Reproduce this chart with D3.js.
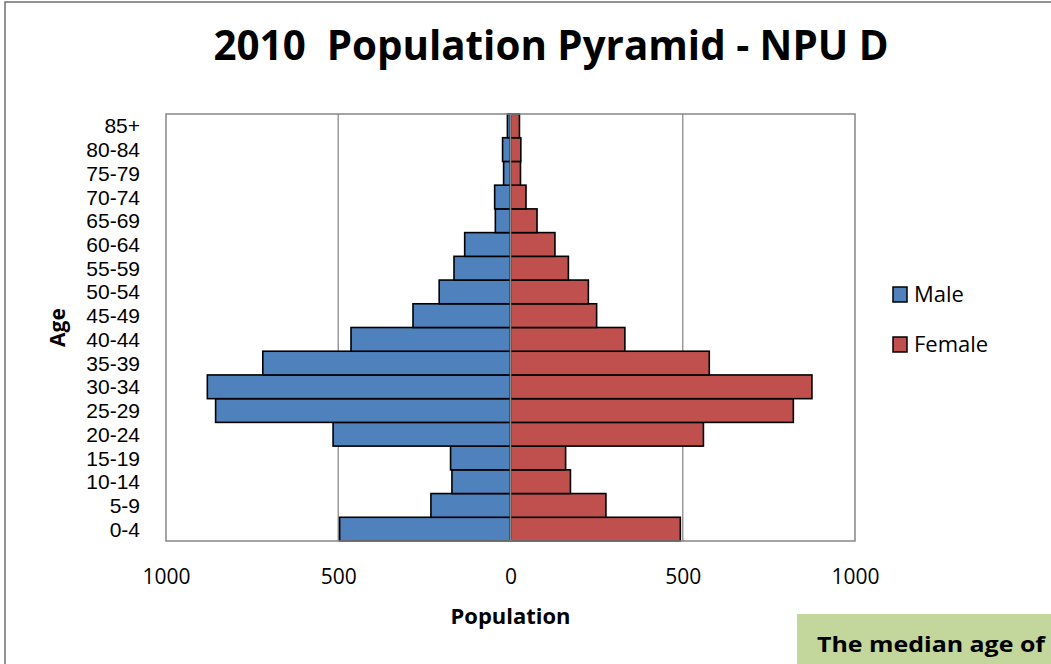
<!DOCTYPE html>
<html>
<head>
<meta charset="utf-8">
<script src="https://cdn.jsdelivr.net/npm/d3@7"></script>
<style>
  html, body { margin: 0; padding: 0; background: #fff; }
  svg { display: block; font-family: "Open Sans", "Liberation Sans", sans-serif; }
</style>
</head>
<body>
<svg id="chart" width="1051" height="664"></svg>
<script>
// ---- data ----
const ageGroups = ["0-4","5-9","10-14","15-19","20-24","25-29","30-34","35-39","40-44","45-49","50-54","55-59","60-64","65-69","70-74","75-79","80-84","85+"];
const maleValues   = [496, 231, 170, 174, 515, 856, 880, 719, 463, 283, 207, 164, 133, 44, 46, 20, 23, 9];
const femaleValues = [493, 277, 174, 160, 560, 821, 875, 577, 332, 250, 226, 168, 129, 77, 45, 29, 30, 26];
const xTicks = [-1000, -500, 0, 500, 1000];
const seriesNames = ["Male", "Female"];
const seriesColors = ["#4F81BD", "#C0504D"];
const titleText = "2010  Population Pyramid - NPU D";
const xTitle = "Population";
const yTitle = "Age";
const noteText = "The median age of";

const svg = d3.select("#chart");

// outer frame
svg.append("rect").attr("x", 5).attr("y", 2).attr("width", 1200).attr("height", 800)
  .attr("fill", "#fff").attr("stroke", "#6f6f6f").attr("stroke-width", 1.5);

const plot = { left: 166, right: 855, top: 114, bottom: 541 };

const x = d3.scaleLinear().domain([-1000, 1000]).range([plot.left, plot.right]);
const y = d3.scaleBand().domain(ageGroups.slice().reverse()).range([plot.top, plot.bottom]).paddingInner(0).paddingOuter(0);

// gridlines
svg.append("g").selectAll("line").data(xTicks.filter(d => d !== 0 && Math.abs(d) !== 1000)).join("line")
  .attr("x1", d => x(d)).attr("x2", d => x(d))
  .attr("y1", plot.top).attr("y2", plot.bottom)
  .attr("stroke", "#9a9a9a").attr("stroke-width", 1.5);

// bars
const rows = ageGroups.map((a, i) => ({ age: a, male: maleValues[i], female: femaleValues[i] }));
const bars = svg.append("g");
bars.selectAll("rect.male").data(rows).join("rect")
  .attr("class", "male")
  .attr("x", d => x(-d.male)).attr("width", d => x(0) - x(-d.male))
  .attr("y", d => y(d.age)).attr("height", y.bandwidth())
  .attr("fill", seriesColors[0]).attr("stroke", "#000").attr("stroke-width", 1.6);
bars.selectAll("rect.female").data(rows).join("rect")
  .attr("class", "female")
  .attr("x", x(0)).attr("width", d => x(d.female) - x(0))
  .attr("y", d => y(d.age)).attr("height", y.bandwidth())
  .attr("fill", seriesColors[1]).attr("stroke", "#000").attr("stroke-width", 1.6);

// zero axis line
svg.append("line").attr("x1", x(0)).attr("x2", x(0)).attr("y1", plot.top).attr("y2", plot.bottom)
  .attr("stroke", "#8a8a8a").attr("stroke-width", 1.5);

// plot border
svg.append("rect").attr("x", plot.left).attr("y", plot.top)
  .attr("width", plot.right - plot.left).attr("height", plot.bottom - plot.top)
  .attr("fill", "none").attr("stroke", "#868686").attr("stroke-width", 1.5);

// x axis
const xAxis = svg.append("g").attr("transform", `translate(0,${plot.bottom})`)
  .call(d3.axisBottom(x).tickValues(xTicks).tickSize(0).tickPadding(0).tickFormat(d => Math.abs(d)));
xAxis.select(".domain").remove();
xAxis.selectAll("text").attr("y", 36).attr("dy", "0.35em").attr("font-size", 21).attr("fill", "#000")
  .style("font-family", '"Open Sans", sans-serif');

// y axis
const yAxis = svg.append("g").attr("transform", `translate(${plot.left},0)`)
  .call(d3.axisLeft(y).tickSize(0).tickPadding(26));
yAxis.select(".domain").remove();
yAxis.selectAll("text").attr("font-size", 21).attr("fill", "#000").attr("dy", "0.36em")
  .style("font-family", '"Liberation Sans", Arial, sans-serif');

// titles
svg.append("text").attr("x", 551).attr("y", 60).attr("text-anchor", "middle")
  .attr("font-size", 42).attr("font-weight", "bold")
  .style("white-space", "pre")
  .attr("textLength", 675).attr("lengthAdjust", "spacingAndGlyphs")
  .text(titleText);

svg.append("text").attr("x", x(0)).attr("y", 624).attr("text-anchor", "middle")
  .attr("font-size", 21).attr("font-weight", "bold")
  .attr("textLength", 120).attr("lengthAdjust", "spacingAndGlyphs").text(xTitle);

svg.append("text").attr("transform", `translate(65,${(plot.top + plot.bottom) / 2}) rotate(-90)`)
  .attr("text-anchor", "middle").attr("font-size", 21).attr("font-weight", "bold").text(yTitle);

// legend
const legend = svg.append("g");
const legendY = [294.5, 344.5];
seriesNames.forEach((name, i) => {
  legend.append("rect").attr("x", 893).attr("y", legendY[i] - 7.5).attr("width", 14).attr("height", 15)
    .attr("fill", seriesColors[i]).attr("stroke", "#000").attr("stroke-width", 1.5);
  legend.append("text").attr("x", 914).attr("y", legendY[i]).attr("dy", "0.36em")
    .attr("font-size", 22).attr("fill", "#000").text(name);
});

// note box
svg.append("rect").attr("x", 797).attr("y", 614).attr("width", 260).attr("height", 60).attr("fill", "#C3D69B");
svg.append("text").attr("x", 817).attr("y", 652).attr("font-size", 22).attr("font-weight", "bold")
  .attr("fill", "#000").attr("textLength", 228).attr("lengthAdjust", "spacingAndGlyphs").text(noteText);
</script>
</body>
</html>
